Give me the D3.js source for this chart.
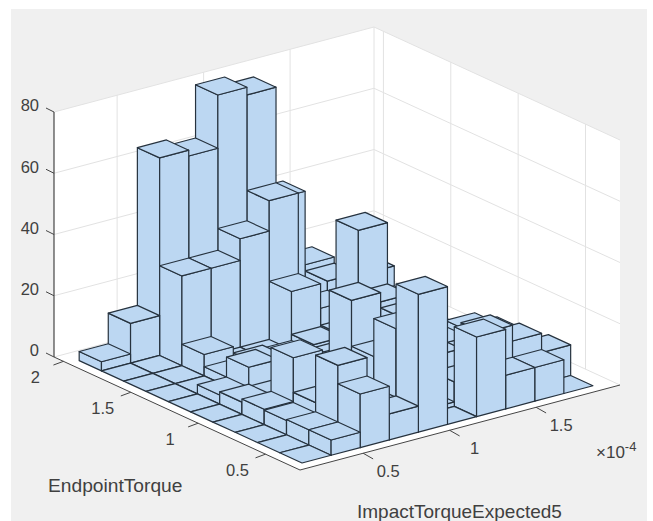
<!DOCTYPE html>
<html><head><meta charset="utf-8">
<script src="https://cdn.jsdelivr.net/npm/d3@7/dist/d3.min.js"></script>
<style>html,body{margin:0;padding:0;background:#fff}svg{display:block}text{font-family:"Liberation Sans",Arial,sans-serif;fill:#404040}</style>
</head><body><svg id="c" width="653" height="521"></svg>
<script>
// Counts per bin; each row is one EndpointTorque bin (row0 = lowest), columns are ImpactTorqueExpected5 bins.
const row0=[0,5,17.5,8.5,45,0,26,11,11,0];
const row1=[0,5,23.5,8,30.4,1.5,8,21.5,16.3,10];
const row2=[0,4.7,8,8,18,28,13,8,15,5];
const row3=[0,5,19.3,8,33,30,10,11,13,5];
const row4=[0,4,3.3,8,8,50,23.5,5,3,3];
const row5=[0,3,9.5,3,3,5,30,5,0,0];
const row6=[0,0,3,5,4,6,6.5,5,0,0];
const row7=[0,0,7,1,1,20,12,5,0,0];
const row8=[0,0,29.3,29.3,36.4,46.3,10,15,0,0];
const row9=[3,13,64.5,62.6,80,77.5,41,17,0,0];
const rows=[row0,row1,row2,row3,row4,row5,row6,row7,row8,row9];
const xBinStart=0.198, xBinEnd=1.880, yBinStart=0.31, yBinEnd=1.964;
const xDomain=[0.135,1.985], yDomain=[0.244,2.07], zDomain=[0,80];
const xTicks=[0.5,1,1.5], yTicks=[0.5,1,1.5,2], zTicks=[0,20,40,60,80];
const xTickLabels=["0.5","1","1.5"], yTickLabels=["0.5","1","1.5","2"], zTickLabels=["0","20","40","60","80"];
const xLabel="ImpactTorqueExpected5", yLabel="EndpointTorque";
const barColor="#bcd7f2", edgeColor="#26323e", gridColor="#e2e2e2", axisColor="#454545", bgColor="#f0f0f0";

const svg=d3.select("#c");
svg.append("rect").attr("x",11).attr("y",9).attr("width",636).attr("height",512).attr("fill",bgColor);

const sx=d3.scaleLinear().domain(xDomain).range([0,1]);
const sy=d3.scaleLinear().domain(yDomain).range([0,1]);
const sz=d3.scaleLinear().domain(zDomain).range([0,245]);
const O=[300,470], VX=[320,-85], VY=[-246,-113];
const P=(x,y,z)=>{const a=sx(x),b=sy(y),c=sz(z);return [O[0]+a*VX[0]+b*VY[0],O[1]+a*VX[1]+b*VY[1]-c];};
const path=pts=>"M"+pts.map(p=>p[0].toFixed(2)+","+p[1].toFixed(2)).join("L")+"Z";
const [x0,x1]=xDomain,[y0,y1]=yDomain,[z0,z1]=zDomain;

// walls and floor
const walls=svg.append("g");
[[[x0,y1,z0],[x1,y1,z0],[x1,y1,z1],[x0,y1,z1]],
 [[x1,y0,z0],[x1,y1,z0],[x1,y1,z1],[x1,y0,z1]],
 [[x0,y0,z0],[x1,y0,z0],[x1,y1,z0],[x0,y1,z0]]].forEach(q=>{
  walls.append("path").attr("d",path(q.map(p=>P(...p)))).attr("fill","#fff").attr("stroke","none");
});
const line=(g,a,b,c,w)=>g.append("line").attr("x1",P(...a)[0]).attr("y1",P(...a)[1]).attr("x2",P(...b)[0]).attr("y2",P(...b)[1]).attr("stroke",c).attr("stroke-width",w);
const grid=svg.append("g");
zTicks.forEach(z=>{line(grid,[x0,y1,z],[x1,y1,z],gridColor,1);line(grid,[x1,y0,z],[x1,y1,z],gridColor,1);});
xTicks.forEach(x=>{line(grid,[x,y1,z0],[x,y1,z1],gridColor,1);});
yTicks.forEach(y=>{line(grid,[x1,y,z0],[x1,y,z1],gridColor,1);});
line(grid,[x1,y1,z0],[x1,y1,z1],gridColor,1);

// bars, painted back to front
const nx=row0.length, ny=rows.length;
const bx=d3.scaleLinear().domain([0,nx]).range([xBinStart,xBinEnd]);
const by=d3.scaleLinear().domain([0,ny]).range([yBinStart,yBinEnd]);
const cells=[];
d3.range(ny).forEach(j=>d3.range(nx).forEach(i=>cells.push({i,j,v:rows[j][i]})));
cells.sort((a,b)=>(b.i+b.j)-(a.i+a.j)||(b.i-a.i));
const bars=svg.append("g").attr("fill",barColor).attr("stroke",edgeColor).attr("stroke-width",1.2).attr("stroke-linejoin","round");
cells.forEach(c=>{
  const xa=bx(c.i),xb=bx(c.i+1),ya=by(c.j),yb=by(c.j+1),h=c.v;
  const g=bars.append("g");
  if(h>0){
    g.append("path").attr("d",path([P(xa,ya,0),P(xa,yb,0),P(xa,yb,h),P(xa,ya,h)]));
    g.append("path").attr("d",path([P(xa,ya,0),P(xb,ya,0),P(xb,ya,h),P(xa,ya,h)]));
  }
  g.append("path").attr("d",path([P(xa,ya,h),P(xb,ya,h),P(xb,yb,h),P(xa,yb,h)]));
});

// axes
const ax=svg.append("g");
line(ax,[x0,y0,z0],[x1,y0,z0],axisColor,1);
line(ax,[x0,y0,z0],[x0,y1,z0],axisColor,1);
line(ax,[x0,y1,z0],[x0,y1,z1],axisColor,1.2);
const txt=(s,x,y,size,anchor)=>ax.append("text").attr("x",x).attr("y",y).attr("font-size",size).attr("text-anchor",anchor).attr("dominant-baseline","middle").text(s);
const tick=(p,dx,dy)=>ax.append("line").attr("x1",p[0]).attr("y1",p[1]).attr("x2",p[0]+dx).attr("y2",p[1]+dy).attr("stroke",axisColor);
xTicks.forEach((t,k)=>{
  const p=P(t,y0,z0);
  tick(p,10,5.7);
  txt(xTickLabels[k],p[0]+25,p[1]+19.5,16.5,"middle");
});
yTicks.forEach((t,k)=>{
  const p=P(x0,t,z0);
  tick(p,-10,3.7);
  txt(yTickLabels[k],p[0]-28,p[1]+17,16.5,"middle");
});
zTicks.forEach((t,k)=>{
  const p=P(x0,y1,t);
  tick(p,-8,-4);
  txt(zTickLabels[k],p[0]-15,p[1]-5,16.5,"end");
});
txt(yLabel,48,487,19.2,"start");
txt(xLabel,357,513,19,"start");
const exp=ax.append("text").attr("x",596).attr("y",454).attr("font-size",17).attr("dominant-baseline","middle");
exp.append("tspan").text("\u00d710");
exp.append("tspan").attr("font-size",13).attr("dy",-6).text("-4");
</script></body></html>
